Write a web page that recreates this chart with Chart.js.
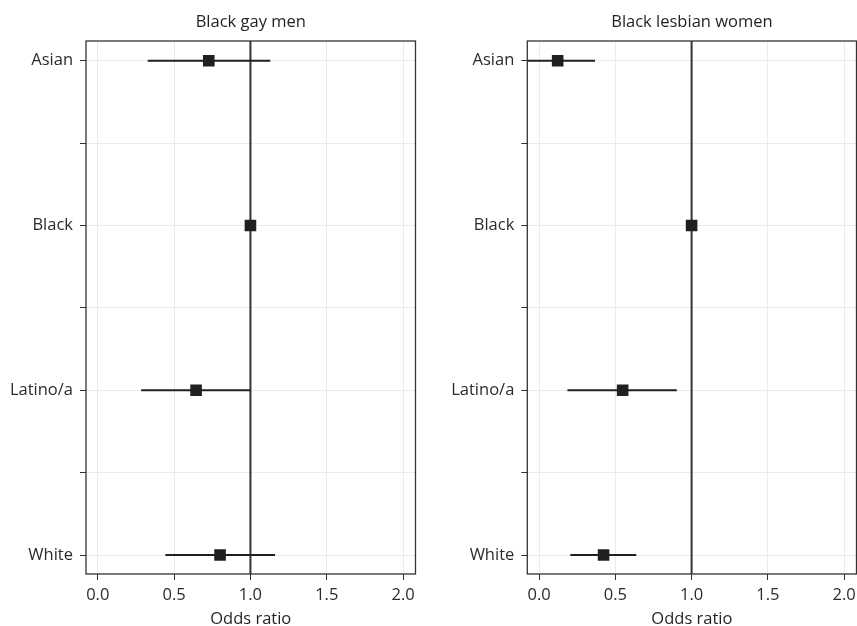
<!DOCTYPE html>
<html>
<head>
<meta charset="utf-8">
<script src="https://cdn.jsdelivr.net/npm/chart.js@4/dist/chart.umd.min.js"></script>
<style>
  html, body { margin: 0; padding: 0; background: #ffffff; }
  #wrap { position: relative; width: 857px; height: 626px; }
  #wrap canvas { position: absolute; left: 0; top: 0; }
</style>
</head>
<body>
<div id="wrap">
  <canvas id="gay" width="857" height="626"></canvas>
  <canvas id="lesbian" width="857" height="626"></canvas>
</div>
<script>
// Race/ethnicity groups on the y axis (top to bottom)
const CATEGORIES = ['Asian', 'Black', 'Latino/a', 'White'];

// Black gay men: odds ratios and 95% CI bounds
const GAY_OR = [0.727, 1.0, 0.644, 0.801];
const GAY_LO = [0.327, 1.0, 0.284, 0.443];
const GAY_HI = [1.13, 1.0, 1.0, 1.161];

// Black lesbian women: odds ratios and 95% CI bounds
const LES_OR = [0.122, 1.0, 0.548, 0.423];
const LES_LO = [-0.12, 1.0, 0.186, 0.205];
const LES_HI = [0.367, 1.0, 0.903, 0.637];

// Axis ticks and reference line
const X_TICKS = [0, 0.5, 1.0, 1.5, 2.0];
const Y_TICKS = [0, 0.5, 1, 1.5, 2, 2.5, 3];
const REF_OR = 1.0;
const X_MIN = -0.077, X_MAX = 2.081;
const Y_MIN = -0.12, Y_MAX = 3.115;

const FONT = "'Open Sans', 'Noto Sans', sans-serif";
const FONT_SIZE = 16.5;
const INK = '#231f20';
const GRID = '#ebebeb';
const AXIS = '#333333';

// Full panel border (theme_bw style box)
const panelBox = {
  id: 'panelBox',
  afterDatasetsDraw(chart) {
    const { ctx, chartArea: a } = chart;
    ctx.save();
    ctx.strokeStyle = AXIS;
    ctx.lineWidth = 1.3;
    ctx.strokeRect(a.left, a.top, a.right - a.left, a.bottom - a.top);
    ctx.restore();
  }
};

function buildDatasets(or, lo, hi) {
  const sets = [];
  // point estimates first so they are painted on top
  sets.push({
    data: CATEGORIES.map((c, i) => ({ x: or[i], y: i })),
    pointStyle: 'rect',
    pointRadius: 8.2,
    pointHoverRadius: 8.2,
    backgroundColor: INK,
    borderWidth: 0,
    showLine: false
  });
  // confidence interval segments
  CATEGORIES.forEach((c, i) => {
    sets.push({
      data: [{ x: lo[i], y: i }, { x: hi[i], y: i }],
      showLine: true,
      borderColor: INK,
      borderWidth: 2,
      pointRadius: 0,
      clip: 0
    });
  });
  // reference line at OR = 1
  sets.push({
    data: [{ x: REF_OR, y: Y_MIN }, { x: REF_OR, y: Y_MAX }],
    showLine: true,
    borderColor: AXIS,
    borderWidth: 2,
    pointRadius: 0,
    clip: 0
  });
  return sets;
}

function makeChart(id, title, or, lo, hi, padLeft, padRight) {
  return new Chart(document.getElementById(id), {
    type: 'scatter',
    data: { datasets: buildDatasets(or, lo, hi) },
    options: {
      responsive: false,
      animation: false,
      events: [],
      layout: { autoPadding: false, padding: { left: padLeft, right: padRight, top: 0, bottom: 0 } },
      plugins: {
        legend: { display: false },
        tooltip: { enabled: false },
        title: {
          display: true,
          text: title,
          fullSize: false,
          color: INK,
          font: { family: FONT, size: FONT_SIZE, weight: 'normal', lineHeight: 1.2 },
          padding: { top: 12, bottom: 9.2 }
        }
      },
      scales: {
        x: {
          type: 'linear',
          min: X_MIN,
          max: X_MAX,
          afterBuildTicks(scale) { scale.ticks = X_TICKS.map(v => ({ value: v })); },
          afterFit(scale) {
            scale.height = 52;
            scale.paddingLeft = 0;
            scale.paddingRight = 0;
          },
          grid: { color: GRID, lineWidth: 1, tickColor: AXIS, tickLength: 6, drawTicks: true },
          border: { display: false },
          ticks: {
            color: '#2b2b2b',
            padding: 5,
            maxRotation: 0,
            autoSkip: false,
            font: { family: FONT, size: FONT_SIZE },
            callback: v => Number(v).toFixed(1)
          },
          title: {
            display: true,
            text: 'Odds ratio',
            color: INK,
            font: { family: FONT, size: FONT_SIZE, lineHeight: 0.8 },
            padding: { top: 0, bottom: 0 }
          }
        },
        y: {
          type: 'linear',
          reverse: true,
          min: Y_MIN,
          max: Y_MAX,
          afterBuildTicks(scale) { scale.ticks = Y_TICKS.map(v => ({ value: v })); },
          afterFit(scale) {
            scale.width = 86;
            scale.paddingTop = 0;
            scale.paddingBottom = 0;
          },
          grid: { color: GRID, lineWidth: 1, tickColor: AXIS, tickLength: 6, drawTicks: true },
          border: { display: false },
          ticks: {
            color: '#2b2b2b',
            padding: 7,
            autoSkip: false,
            font: { family: FONT, size: FONT_SIZE },
            callback: v => (Number.isInteger(v) ? CATEGORIES[v] : '')
          }
        }
      }
    },
    plugins: [panelBox]
  });
}

makeChart('gay', 'Black gay men', GAY_OR, GAY_LO, GAY_HI, 0, 441.5);
makeChart('lesbian', 'Black lesbian women', LES_OR, LES_LO, LES_HI, 441.3, 0.5);
</script>
</body>
</html>
